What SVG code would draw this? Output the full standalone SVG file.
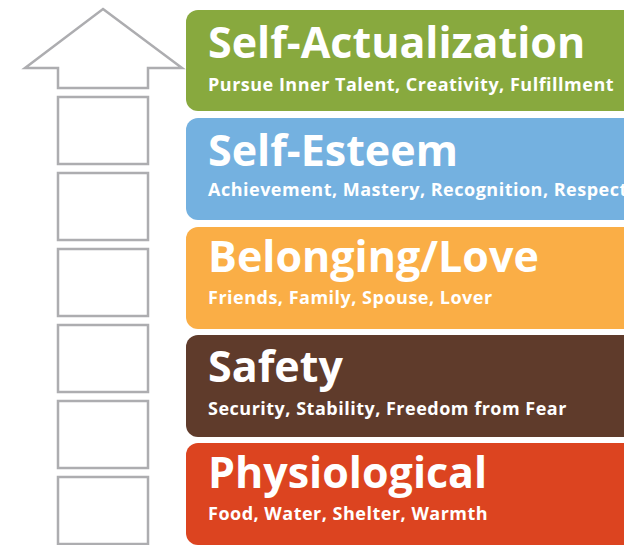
<svg xmlns="http://www.w3.org/2000/svg" width="624" height="545" viewBox="0 0 624 545">
<style>
.out{fill:#fff;stroke:#adadb0;stroke-width:2.5}
.t{font-family:"Open Sans","Noto Sans",sans-serif;font-weight:bold;fill:#fff}
.h{font-size:43px}
.s{font-size:18px;letter-spacing:0.5px}
</style>
<rect width="624" height="545" fill="#fff"/>
<g id="arrow">
<path class="out" d="M103,9 L182,68 L148,68 L148,88 L58,88 L58,68 L25,68 Z"/>
<rect class="out" x="58" y="97" width="90" height="67"/>
<rect class="out" x="58" y="173" width="90" height="67"/>
<rect class="out" x="58" y="249" width="90" height="67"/>
<rect class="out" x="58" y="325" width="90" height="67"/>
<rect class="out" x="58" y="401" width="90" height="67"/>
<rect class="out" x="58" y="477" width="90" height="67"/>
</g>
<g id="self-actualization">
<rect x="186" y="10" width="470" height="101" rx="12" fill="#88a93e"/>
<text class="t h" x="208" y="58">Self-Actualization</text>
<text class="t s" x="208" y="91">Pursue Inner Talent, Creativity, Fulfillment</text>
</g>
<g id="self-esteem">
<rect x="186" y="118" width="470" height="102" rx="12" fill="#74b1e0"/>
<text class="t h" x="208" y="166">Self-Esteem</text>
<text class="t s" x="208" y="196">Achievement, Mastery, Recognition, Respect</text>
</g>
<g id="belonging">
<rect x="186" y="227" width="470" height="102" rx="12" fill="#faae46"/>
<text class="t h" x="208" y="272">Belonging/Love</text>
<text class="t s" x="208" y="304">Friends, Family, Spouse, Lover</text>
</g>
<g id="safety">
<rect x="186" y="335" width="470" height="102" rx="12" fill="#5f3b2b"/>
<text class="t h" x="208" y="382">Safety</text>
<text class="t s" x="208" y="415">Security, Stability, Freedom from Fear</text>
</g>
<g id="physiological">
<rect x="186" y="443" width="470" height="102" rx="12" fill="#dc4420"/>
<text class="t h" x="208" y="488">Physiological</text>
<text class="t s" x="208" y="520">Food, Water, Shelter, Warmth</text>
</g>
</svg>
